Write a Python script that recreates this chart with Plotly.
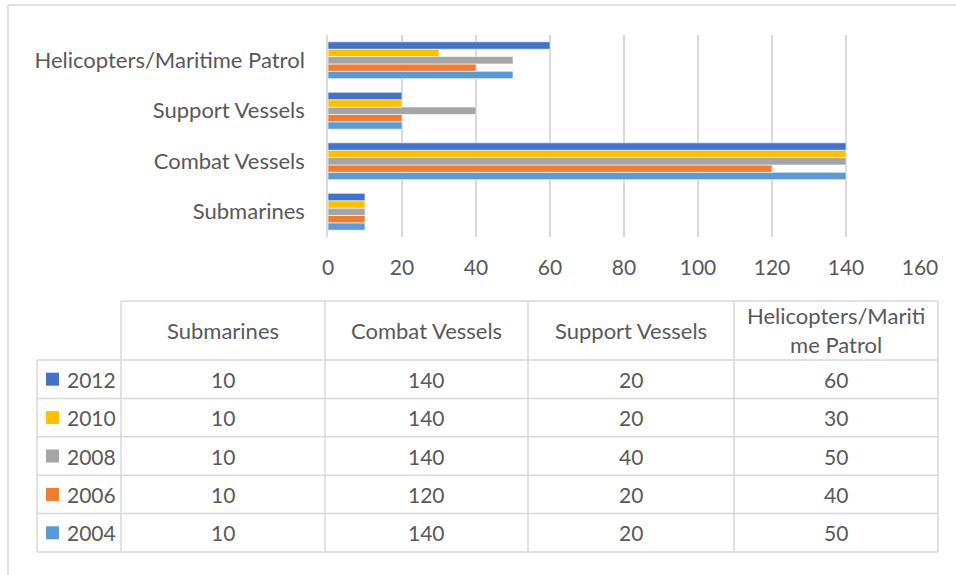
import plotly.graph_objects as go

W, H = 956, 575

categories = ["Submarines", "Combat Vessels", "Support Vessels", "Helicopters/Maritime Patrol"]
table_headers = ["Submarines", "Combat Vessels", "Support Vessels", "Helicopters/Mariti<br>me Patrol"]
years = ["2012", "2010", "2008", "2006", "2004"]
values = {
    "2012": [10, 140, 20, 60],
    "2010": [10, 140, 20, 30],
    "2008": [10, 140, 40, 50],
    "2006": [10, 120, 20, 40],
    "2004": [10, 140, 20, 50],
}
colors = {
    "2012": "#4472C4",
    "2010": "#FFC000",
    "2008": "#A5A5A5",
    "2006": "#ED7D31",
    "2004": "#5B9BD5",
}
x_ticks = [0, 20, 40, 60, 80, 100, 120, 140, 160]

FONT = "Lato, Open Sans, sans-serif"
TXT = "#595959"
GRID = "#D9D9D9"
FS_WORD = 22
FS_NUM = 21


def px(x):
    return x / W


def py(y):
    return 1 - y / H


fig = go.Figure()
for yr in reversed(years):
    fig.add_trace(go.Bar(
        y=categories, x=values[yr], name=yr, orientation="h",
        marker=dict(color=colors[yr], line=dict(color="white", width=0.6)),
        showlegend=False,
    ))

shapes = []
annotations = []

# outer chart border
shapes.append(dict(type="line", xref="paper", yref="paper", x0=px(8), x1=px(W), y0=py(5), y1=py(5),
                   line=dict(color=GRID, width=1.5)))
shapes.append(dict(type="line", xref="paper", yref="paper", x0=px(8), x1=px(8), y0=py(5), y1=py(H),
                   line=dict(color=GRID, width=1.5)))

# data table
col_edges = [37, 121, 325, 528, 734, 938]
header_top, header_bot = 301, 360
row_h = (552 - 360) / len(years)
row_edges = [header_bot + i * row_h for i in range(len(years) + 1)]
tl = dict(color=GRID, width=1.5)

shapes.append(dict(type="line", xref="paper", yref="paper", x0=px(col_edges[1]), x1=px(col_edges[-1]),
                   y0=py(header_top), y1=py(header_top), line=tl))
for ry in row_edges:
    shapes.append(dict(type="line", xref="paper", yref="paper", x0=px(col_edges[0]), x1=px(col_edges[-1]),
                       y0=py(ry), y1=py(ry), line=tl))
shapes.append(dict(type="line", xref="paper", yref="paper", x0=px(col_edges[0]), x1=px(col_edges[0]),
                   y0=py(header_bot), y1=py(row_edges[-1]), line=tl))
for cx in col_edges[1:]:
    shapes.append(dict(type="line", xref="paper", yref="paper", x0=px(cx), x1=px(cx),
                       y0=py(header_top), y1=py(row_edges[-1]), line=tl))

for j, h in enumerate(table_headers):
    cx = (col_edges[j + 1] + col_edges[j + 2]) / 2
    annotations.append(dict(xref="paper", yref="paper", x=px(cx), y=py((header_top + header_bot) / 2),
                            text=h, showarrow=False, xanchor="center", yanchor="middle",
                            font=dict(family=FONT, size=FS_WORD, color=TXT)))

for i, yr in enumerate(years):
    cy = (row_edges[i] + row_edges[i + 1]) / 2
    shapes.append(dict(type="rect", xref="paper", yref="paper", x0=px(46), x1=px(59),
                       y0=py(cy - 6.5), y1=py(cy + 6.5), fillcolor=colors[yr], line=dict(width=0)))
    annotations.append(dict(xref="paper", yref="paper", x=px(65), y=py(cy), text=yr, showarrow=False,
                            xanchor="left", yanchor="middle", font=dict(family=FONT, size=FS_NUM, color=TXT)))
    for j, v in enumerate(values[yr]):
        cx = (col_edges[j + 1] + col_edges[j + 2]) / 2
        annotations.append(dict(xref="paper", yref="paper", x=px(cx), y=py(cy), text=str(v), showarrow=False,
                                xanchor="center", yanchor="middle", font=dict(family=FONT, size=FS_NUM, color=TXT)))

fig.update_layout(
    template="none",
    width=W, height=H, autosize=False,
    margin=dict(l=0, r=0, t=0, b=0, pad=0, autoexpand=False),
    paper_bgcolor="white", plot_bgcolor="white",
    barmode="group", bargap=0.27, bargroupgap=0,
    font=dict(family=FONT, color=TXT, size=FS_WORD),
    xaxis=dict(domain=[px(328), px(920)], range=[0, 160], tickvals=x_ticks, automargin=False,
               showgrid=True, gridcolor=GRID, gridwidth=1.5, zeroline=False, ticks="",
               showline=False, anchor="y", ticklabelstandoff=16,
               tickfont=dict(family=FONT, size=FS_NUM, color=TXT)),
    yaxis=dict(domain=[py(237), py(35)], range=[-0.5, 3.5], showgrid=False, zeroline=False, automargin=False,
               showline=True, linecolor=GRID, linewidth=1.5, ticklabelstandoff=17, ticks="",
               tickfont=dict(family=FONT, size=FS_WORD, color=TXT)),
    shapes=shapes,
    annotations=annotations,
)

fig.write_html(
    "out.html",
    config={"displayModeBar": False},
    post_script="document.body.style.margin='0';document.body.style.overflow='hidden';",
)
